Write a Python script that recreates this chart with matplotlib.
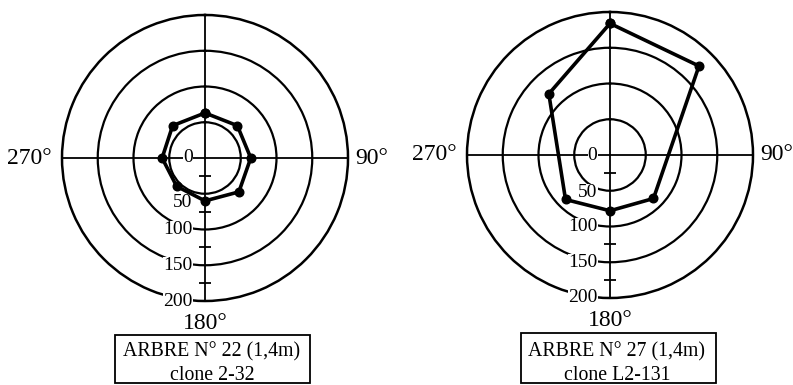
import numpy as np
import matplotlib
matplotlib.use("Agg")
import matplotlib.pyplot as plt
from matplotlib.patches import Rectangle

plt.rcParams['font.family'] = ['Liberation Serif', 'DejaVu Serif']

W, H, DPI = 793, 385, 100

# Tree 22, clone 2-32 : measurements per compass direction (degrees)
angles_22 = [0, 45, 90, 135, 180, 225, 270, 315]
values_22 = [63, 64, 64, 67, 60, 56, 60, 64]

# Tree 27, clone L2-131
angles_27 = [0, 45, 135, 180, 225, 315]
values_27 = [184, 176, 86, 78, 88, 121]

ring_levels = [50, 100, 150]
r_max = 200
half_ticks = [25, 75, 125, 175]
scale_values = [0, 50, 100, 150, 200]

title_22 = ["ARBRE N° 22 (1,4m)", "clone 2-32"]
title_27 = ["ARBRE N° 27 (1,4m)", "clone L2-131"]


def px_rect(cx, cy, r):
    """Axes rectangle (figure fraction) for a circle centred at pixel (cx, cy)."""
    return [(cx - r) / W, (H - cy - r) / H, 2 * r / W, 2 * r / H]


def rose(fig, rect, angles, values, label50_r):
    ax = fig.add_axes(rect, projection='polar')
    ax.set_theta_zero_location('N')
    ax.set_theta_direction(-1)
    ax.set_ylim(0, r_max)
    ax.set_rgrids(ring_levels, labels=[])
    ax.set_thetagrids([0, 90, 180, 270], labels=[])
    ax.tick_params(length=0, pad=0)
    ax.xaxis.grid(True, color='black', linewidth=1.3)
    ax.yaxis.grid(True, color='black', linewidth=1.6)
    ax.spines['polar'].set_linewidth(1.8)

    # small marks halfway between the rings, along the 180° axis
    ax.plot(np.full(len(half_ticks), np.pi), half_ticks, ls='none',
            marker='_', ms=8, mew=1.3, color='black', clip_on=False, zorder=3)

    # radial scale labels on the left of the 180° axis
    for v in scale_values:
        r = label50_r if v == 50 else v
        ax.annotate(str(v), xy=(np.pi, r), xytext=(-9, 0),
                    textcoords='offset points', ha='right', va='center',
                    fontsize=14, annotation_clip=False, zorder=3.5,
                    bbox=dict(fc='white', ec='none', pad=0.2))

    th = np.radians(list(angles) + [angles[0]])
    rr = list(values) + [values[0]]
    ax.plot(th, rr, color='black', lw=2.6, marker='o', ms=6.2,
            zorder=4, clip_on=False)

    ax.text(-0.035, 0.5, "270°", transform=ax.transAxes, ha='right',
            va='center', fontsize=17)
    ax.text(1.025, 0.5, "90°", transform=ax.transAxes, ha='left',
            va='center', fontsize=17)
    ax.text(0.5, -0.078, "180°", transform=ax.transAxes, ha='center',
            va='center', fontsize=17)
    return ax


def caption(fig, x0, x1, y0, y1, cx, lines):
    fig.patches.append(Rectangle((x0 / W, 1 - y1 / H), (x1 - x0) / W,
                                 (y1 - y0) / H, transform=fig.transFigure,
                                 fill=False, ec='black', lw=1.3))
    fig.text(cx / W, 1 - 352 / H, lines[0], ha='center', va='center',
             fontsize=14.3)
    fig.text(cx / W, 1 - 375.5 / H, lines[1], ha='center', va='center',
             fontsize=14.3)


fig = plt.figure(figsize=(W / DPI, H / DPI), dpi=DPI)
fig.patch.set_facecolor('white')

rose(fig, px_rect(205, 158, 143), angles_22, values_22, label50_r=62)
rose(fig, px_rect(610, 155, 143), angles_27, values_27, label50_r=53)

caption(fig, 115, 310, 335, 383, 212, title_22)
caption(fig, 521, 716, 333, 383, 617, title_27)

fig.savefig("out.png", dpi=DPI)
